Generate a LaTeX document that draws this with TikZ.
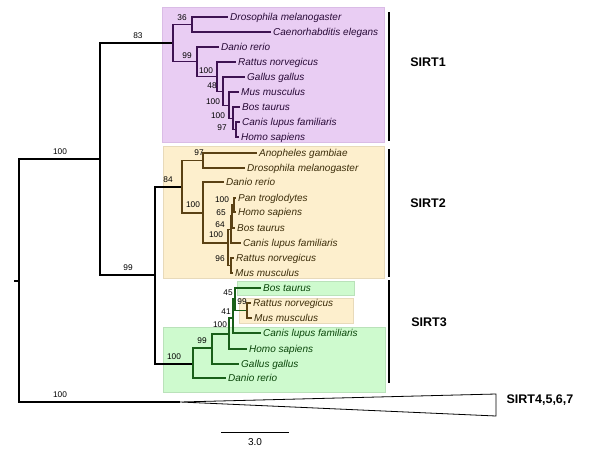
\documentclass[tikz,border=0pt]{standalone}
\usepackage{fontspec}
\setmainfont{Liberation Sans}
\usetikzlibrary{positioning}

\definecolor{sirtAbg}{RGB}{233,205,243}
\definecolor{sirtAbd}{RGB}{218,188,230}
\definecolor{sirtAln}{RGB}{62,18,82}
\definecolor{sirtAtx}{RGB}{40,10,55}
\definecolor{sirtBbg}{RGB}{253,239,205}
\definecolor{sirtBbd}{RGB}{232,218,186}
\definecolor{sirtBln}{RGB}{90,65,20}
\definecolor{sirtBtx}{RGB}{60,45,10}
\definecolor{sirtCbg}{RGB}{206,250,206}
\definecolor{sirtCbd}{RGB}{186,226,186}
\definecolor{sirtCln}{RGB}{25,95,25}
\definecolor{sirtCtx}{RGB}{10,70,10}

\begin{document}
\begin{tikzpicture}[
  x=1pt, y=-1pt,
  tip/.style   ={anchor=west, inner xsep=2pt, inner ysep=0pt, text height=7.2pt, text depth=0pt, font=\fontsize{10}{12}\selectfont\itshape},
  boot/.style  ={inner sep=0pt, font=\fontsize{8.3}{10}\selectfont},
  branch/.style={line width=1.2pt},
  clade/.style ={line width=0.6pt},
  bar/.style   ={line width=2pt},
  fam/.style   ={inner sep=0pt, font=\fontsize{12.5}{14}\selectfont\bfseries},
]
\useasboundingbox (0,0) rectangle (600,450);

% ---- shaded clades ----
\draw[clade, draw=sirtAbd, fill=sirtAbg] (162,7) rectangle (384,142);
\draw[clade, draw=sirtBbd, fill=sirtBbg] (163,146) rectangle (384,278);
\draw[clade, draw=sirtCbd, fill=sirtCbg] (237,281) rectangle (354,295);
\draw[clade, draw=sirtBbd, fill=sirtBbg] (239,298) rectangle (353,323);
\draw[clade, draw=sirtCbd, fill=sirtCbg] (163,327) rectangle (385,392);

% ---- backbone ----
\coordinate (stub) at (14,281);
\coordinate (r0)   at (19,281);
\coordinate (a100) at (100,159);
\coordinate (b99)  at (155,275);
\coordinate (n83)  at (173,43);
\coordinate (n84)  at (182,187);
\coordinate (n3r)  at (193,364);
\coordinate (apex) at (180,402);
\coordinate (tritop) at (496,394);
\coordinate (tribot) at (496,416);

\draw[branch] (stub) -- (r0);
\draw[branch] (r0) |- (a100);
\draw[branch] (r0) |- (apex);
\draw[branch] (a100) |- (n83);
\draw[branch] (a100) |- (b99);
\draw[branch] (b99) |- (n84);
\draw[branch] (b99) |- (n3r);
\draw[line width=0.8pt, fill=white] (apex) -- (tritop) -- (tribot) -- cycle;

\node[boot] (bsA) at (60,152)  {100};
\node[boot] (bsB) at (60,395)  {100};
\node[boot] (bsC) at (138,36)  {83};
\node[boot] (bsD) at (128,268) {99};
\node[boot] (bsE) at (168,180) {84};
\node[boot] (bsF) at (174,357) {100};

% ---- SIRT1 ----
\coordinate (n36)   at (192,24.5);
\coordinate (n99)   at (197,61.8);
\coordinate (n100a) at (217,76.5);
\coordinate (n48)   at (223,91.1);
\coordinate (n100b) at (229,105.1);
\coordinate (n100c) at (233,118.3);
\coordinate (n97)   at (236,129.5);

\node[tip, sirtAtx] (aDme) at (228,17)  {Drosophila melanogaster};
\node[tip, sirtAtx] (aCel) at (271,32)  {Caenorhabditis elegans};
\node[tip, sirtAtx] (aDre) at (219,47)  {Danio rerio};
\node[tip, sirtAtx] (aRno) at (236,62)  {Rattus norvegicus};
\node[tip, sirtAtx] (aGga) at (245,77)  {Gallus gallus};
\node[tip, sirtAtx] (aMmu) at (239,92)  {Mus musculus};
\node[tip, sirtAtx] (aBta) at (240,107) {Bos taurus};
\node[tip, sirtAtx] (aClf) at (240,122) {Canis lupus familiaris};
\node[tip, sirtAtx] (aHsa) at (239,137) {Homo sapiens};

\begin{scope}[branch, sirtAln]
\draw (n83) |- (n36);
\draw (n83) |- (n99);
\draw (n36) |- (aDme.west);
\draw (n36) |- (aCel.west);
\draw (n99) |- (aDre.west);
\draw (n99) |- (n100a);
\draw (n100a) |- (aRno.west);
\draw (n100a) |- (n48);
\draw (n48) |- (aGga.west);
\draw (n48) |- (n100b);
\draw (n100b) |- (aMmu.west);
\draw (n100b) |- (n100c);
\draw (n100c) |- (aBta.west);
\draw (n100c) |- (n97);
\draw (n97) |- (aClf.west);
\draw (n97) |- (aHsa.west);
\end{scope}

\node[boot] (bsA1) at (182,18)  {36};
\node[boot] (bsA2) at (187,56)  {99};
\node[boot] (bsA3) at (206,71)  {100};
\node[boot] (bsA4) at (212,86)  {48};
\node[boot] (bsA5) at (213,102) {100};
\node[boot] (bsA6) at (218,116) {100};
\node[boot] (bsA7) at (222,128) {97};

% ---- SIRT2 ----
\coordinate (m97)  at (203,160.5);
\coordinate (m100) at (203,213);
\coordinate (m2c)  at (228,243);
\coordinate (m2d)  at (231,229.5);
\coordinate (m2f)  at (232,216);
\coordinate (m2g)  at (234,205);
\coordinate (m2e)  at (231,265.5);

\node[tip, sirtBtx] (bAga) at (257,153) {Anopheles gambiae};
\node[tip, sirtBtx] (bDme) at (245,168) {Drosophila melanogaster};
\node[tip, sirtBtx] (bDre) at (224,182) {Danio rerio};
\node[tip, sirtBtx] (bPtr) at (236,198) {Pan troglodytes};
\node[tip, sirtBtx] (bHsa) at (236,212) {Homo sapiens};
\node[tip, sirtBtx] (bBta) at (235,228) {Bos taurus};
\node[tip, sirtBtx] (bClf) at (241,243) {Canis lupus familiaris};
\node[tip, sirtBtx] (bRno) at (234,258) {Rattus norvegicus};
\node[tip, sirtBtx] (bMmu) at (233,273) {Mus musculus};

\begin{scope}[branch, sirtBln]
\draw (n84) |- (m97);
\draw (n84) |- (m100);
\draw (m97) |- (bAga.west);
\draw (m97) |- (bDme.west);
\draw (m100) |- (bDre.west);
\draw (m100) |- (m2c);
\draw (m2c) |- (m2d);
\draw (m2c) |- (m2e);
\draw (m2d) |- (m2f);
\draw (m2d) |- (bClf.west);
\draw (m2f) |- (m2g);
\draw (m2f) |- (bBta.west);
\draw (m2g) |- (bPtr.west);
\draw (m2g) |- (bHsa.west);
\draw (m2e) |- (bRno.west);
\draw (m2e) |- (bMmu.west);
\end{scope}

\node[boot] (bsB1) at (199,153) {97};
\node[boot] (bsB2) at (193,205) {100};
\node[boot] (bsB3) at (222,200) {100};
\node[boot] (bsB4) at (221,213) {65};
\node[boot] (bsB5) at (220,225) {64};
\node[boot] (bsB6) at (216,235) {100};
\node[boot] (bsB7) at (220,259) {96};

% ---- SIRT3 ----
\coordinate (k99)  at (212,348);
\coordinate (k100) at (229,334);
\coordinate (k41)  at (233,318);
\coordinate (k45)  at (235,299);
\coordinate (k99b) at (247,310.5);

\node[tip, sirtCtx] (cBta) at (261,288) {Bos taurus};
\node[tip, sirtBtx] (cRno) at (251,303) {Rattus norvegicus};
\node[tip, sirtBtx] (cMmu) at (252,318) {Mus musculus};
\node[tip, sirtCtx] (cClf) at (261,333) {Canis lupus familiaris};
\node[tip, sirtCtx] (cHsa) at (247,349) {Homo sapiens};
\node[tip, sirtCtx] (cGga) at (239,364) {Gallus gallus};
\node[tip, sirtCtx] (cDre) at (226,378) {Danio rerio};

\begin{scope}[branch, sirtCln]
\draw (n3r) |- (k99);
\draw (n3r) |- (cDre.west);
\draw (k99) |- (k100);
\draw (k99) |- (cGga.west);
\draw (k100) |- (k41);
\draw (k100) |- (cHsa.west);
\draw (k41) |- (k45);
\draw (k41) |- (cClf.west);
\draw (k45) |- (cBta.west);
\draw (k45) |- (k99b);
\end{scope}
\draw[branch, sirtBln] (k99b) |- (cRno.west);
\draw[branch, sirtBln] (k99b) |- (cMmu.west);

\node[boot] (bsC1) at (202,341) {99};
\node[boot] (bsC2) at (220,325) {100};
\node[boot] (bsC3) at (226,312) {41};
\node[boot] (bsC4) at (228,293) {45};
\node[boot] (bsC5) at (242,302) {99};

% ---- family bars ----
\coordinate (barA0) at (389,12);  \coordinate (barA1) at (389,141);
\coordinate (barB0) at (389,149); \coordinate (barB1) at (389,277);
\coordinate (barC0) at (389,280); \coordinate (barC1) at (389,383);
\draw[bar] (barA0) -- (barA1);
\draw[bar] (barB0) -- (barB1);
\draw[bar] (barC0) -- (barC1);

\node[fam] (famA) at (428,62)  {SIRT1};
\node[fam] (famB) at (428,203) {SIRT2};
\node[fam] (famC) at (429,322) {SIRT3};
\node[fam] (famD) at (540,400) {SIRT4,5,6,7};

% ---- scale ----
\coordinate (sc0) at (221,432);
\coordinate (sc1) at (289,432);
\draw[line width=1pt] (sc0) -- (sc1);
\node[font=\fontsize{10}{12}\selectfont] (sclab) at (255,442) {3.0};

\end{tikzpicture}
\end{document}
